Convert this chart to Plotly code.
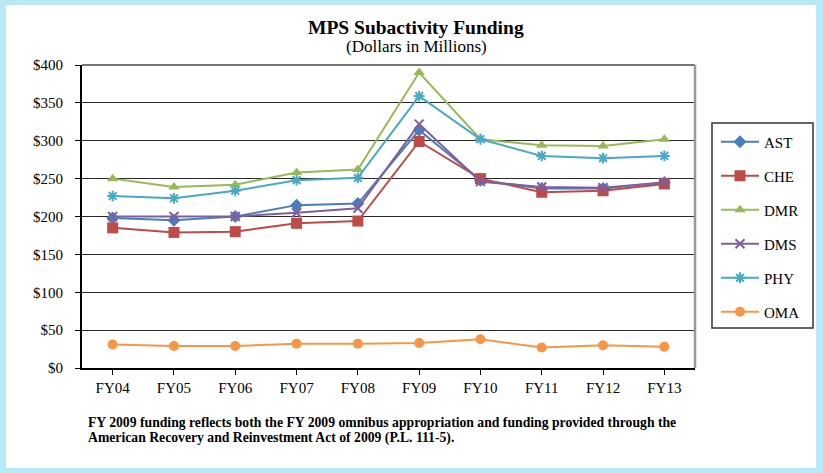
import plotly.graph_objects as go

categories = ["FY04", "FY05", "FY06", "FY07", "FY08", "FY09", "FY10", "FY11", "FY12", "FY13"]
AST = [198, 195, 200, 215, 217, 314, 248, 237, 237, 245]
CHE = [185, 179, 180, 191, 194, 299, 250, 232, 234, 243]
DMR = [250, 239, 242, 258, 262, 390, 302, 294, 293, 302]
DMS = [200, 200, 200, 205, 211, 322, 246, 239, 238, 245]
PHY = [227, 224, 234, 248, 251, 359, 302, 280, 277, 280]
OMA = [31, 29, 29, 32, 32, 33, 38, 27, 30, 28]
y_ticks = [0, 50, 100, 150, 200, 250, 300, 350, 400]
y_tick_labels = ["$" + str(v) for v in y_ticks]

series = [
    ("AST", AST, "#4A7EBB", "diamond", 10),
    ("CHE", CHE, "#BE4B48", "square", 11),
    ("DMR", DMR, "#98B954", "triangle-up", 10),
    ("DMS", DMS, "#7D60A0", "x-thin-open", 9),
    ("PHY", PHY, "#46AAC5", "asterisk-open", 9),
    ("OMA", OMA, "#F79646", "circle", 10),
]

W, H = 823, 473
L, R, T, B = 82, 695, 65, 368
pw, ph = R - L, B - T

def fx(px):
    return (px - L) / pw

def fy(py):
    return (B - py) / ph

fig = go.Figure()
for name, vals, color, sym, size in series:
    mk = dict(symbol=sym, size=size, color=color)
    if sym.endswith("open"):
        mk["line"] = dict(color=color, width=2)
    fig.add_trace(go.Scatter(
        x=categories, y=vals, name=name, mode="lines+markers",
        line=dict(color=color, width=2), marker=mk, legendgroup=name,
    ))

serif = "Liberation Serif, Times New Roman, serif"
fig.update_layout(
    width=W, height=H,
    margin=dict(l=L, r=W - R, t=T, b=H - B),
    paper_bgcolor="#B8E9F4",
    plot_bgcolor="rgba(0,0,0,0)",
    font=dict(family=serif, size=15, color="black"),
    showlegend=True,
    legend=dict(
        x=fx(716), y=fy(125.5), xanchor="left", yanchor="top",
        borderwidth=0, bgcolor="rgba(0,0,0,0)",
        font=dict(family=serif, size=15, color="black"),
        tracegroupgap=11.5, itemwidth=38,
    ),
    xaxis=dict(
        type="category", range=[-0.5, 9.5], showline=True, linecolor="black",
        linewidth=2, ticks="outside", ticklen=5, tickcolor="black",
        showgrid=False, tickfont=dict(family=serif, size=15),
    ),
    yaxis=dict(
        range=[0, 400], tickvals=y_ticks, ticktext=y_tick_labels, showline=True,
        linecolor="black", linewidth=2, ticks="outside", ticklen=5,
        tickcolor="black", gridcolor="#2a2a2a", gridwidth=1,
        tickfont=dict(family=serif, size=15), zeroline=False,
        ticklabelstandoff=9,
    ),
    shapes=[
        dict(type="rect", xref="paper", yref="paper", x0=fx(6), x1=fx(816),
             y0=fy(468), y1=fy(5), fillcolor="white", line=dict(width=0),
             layer="below"),
        dict(type="rect", xref="paper", yref="paper", x0=fx(712), x1=fx(813),
             y0=fy(328), y1=fy(123), fillcolor="white",
             line=dict(color="#333333", width=1.5), layer="below"),
        dict(type="line", xref="paper", yref="paper", x0=0, x1=1, y0=1, y1=1,
             line=dict(color="#777777", width=2), layer="above"),
        dict(type="line", xref="paper", yref="paper", x0=1, x1=1, y0=0, y1=1,
             line=dict(color="#999999", width=2.5), layer="above"),
    ],
    annotations=[
        dict(text="<b>MPS Subactivity Funding</b>", xref="paper", yref="paper",
             x=fx(416), y=fy(27), showarrow=False, xanchor="center", yanchor="middle",
             font=dict(family=serif, size=19.5)),
        dict(text="(Dollars in Millions)", xref="paper", yref="paper",
             x=fx(416), y=fy(46), showarrow=False, xanchor="center", yanchor="middle",
             font=dict(family=serif, size=17)),
        dict(text="<b>FY 2009 funding reflects both the FY 2009 omnibus appropriation and funding provided through the</b>",
             xref="paper", yref="paper", x=fx(86), y=fy(422.5), showarrow=False,
             xanchor="left", yanchor="middle", align="left",
             font=dict(family=serif, size=13.7)),
        dict(text="<b>American Recovery and Reinvestment Act of 2009 (P.L. 111-5).</b>",
             xref="paper", yref="paper", x=fx(86), y=fy(437.5), showarrow=False,
             xanchor="left", yanchor="middle", align="left",
             font=dict(family=serif, size=13.7)),
    ],
)

fig.write_html("out.html", config={"displayModeBar": False},
               post_script="document.body.style.margin='0';document.body.style.overflow='hidden';")
